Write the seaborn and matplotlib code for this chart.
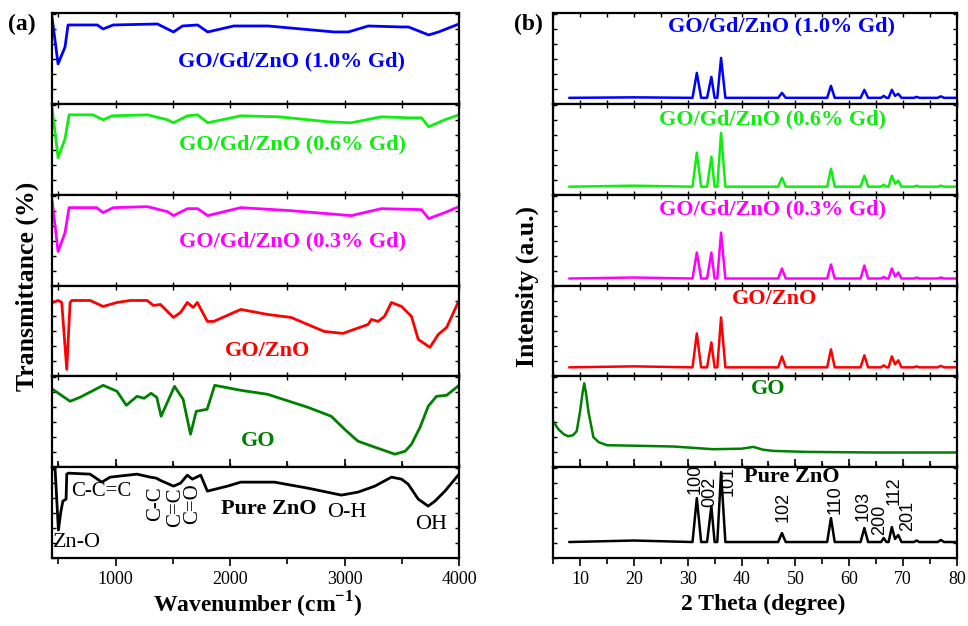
import numpy as np
import pandas as pd
import matplotlib
matplotlib.use("Agg")
import matplotlib.pyplot as plt
import seaborn as sns
from matplotlib.ticker import MultipleLocator

# ---------------- FTIR data (wavenumber, cm-1 ; relative transmittance) ----------------
ftir_10_x = [445, 498, 559, 585, 840, 892, 980, 1366, 1506, 1585, 1717, 1805, 2033, 2331,
             2621, 2910, 3033, 3208, 3498, 3559, 3735, 3822, 3910, 4000]
ftir_10_y = [87, 40, 57, 79, 79, 75, 79, 80, 72, 78, 79, 72, 78, 78,
             75, 72, 72, 78, 77, 77, 69, 72, 76, 80]

ftir_06_x = [445, 498, 559, 594, 800, 892, 971, 1279, 1454, 1506, 1629, 1717, 1805, 2095,
             2430, 2857, 3059, 3322, 3559, 3673, 3735, 3875, 4000]
ftir_06_y = [88, 37, 56, 80, 80, 75, 79, 80, 75, 72, 79, 80, 72, 79,
             78, 73, 72, 78, 77, 77, 68, 75, 80]

ftir_03_x = [445, 498, 559, 594, 835, 892, 980, 1279, 1454, 1506, 1629, 1717, 1805, 2095,
             2528, 3059, 3322, 3673, 3735, 3875, 4000]
ftir_03_y = [86, 34, 53, 78, 78, 73, 78, 79, 74, 70, 77, 77, 70, 78,
             75, 70, 77, 76, 67, 73, 79]

ftir_gozno_x = [451, 498, 530, 574, 603, 618, 778, 892, 1013, 1129, 1276, 1331, 1392, 1506,
                1568, 1627, 1679, 1714, 1802, 1857, 2094, 2328, 2533, 2822, 2986, 3206,
                3235, 3293, 3349, 3410, 3498, 3585, 3644, 3746, 3819, 3892, 4000]
ftir_gozno_y = [74, 76, 74, 7, 74, 76, 76, 70, 74, 76, 76, 71, 72, 59,
                64, 74, 69, 74, 55, 55, 67, 62, 59, 45, 43, 52,
                57, 55, 60, 74, 70, 60, 37, 29, 42, 49, 76]

ftir_go_x = [451, 603, 690, 892, 1013, 1094, 1188, 1250, 1310, 1360, 1398, 1515, 1590, 1655,
             1705, 1800, 1866, 2094, 2328, 2679, 2884, 3000, 3118, 3265, 3440, 3530, 3585,
             3660, 3731, 3804, 3892, 4000]
ftir_go_y = [78, 66, 70, 82, 76, 62, 71, 69, 74, 70, 51, 81, 68, 33,
             56, 58, 82, 77, 73, 60, 51, 38, 26, 20, 13, 16, 23,
             40, 61, 71, 72, 82]

ftir_zno_x = [445, 472, 501, 522, 540, 568, 574, 588, 778, 880, 953, 1187, 1304, 1357, 1387,
              1506, 1568, 1627, 1671, 1744, 1802, 1978, 2094, 2387, 2679, 2972, 3118, 3265,
              3410, 3498, 3556, 3644, 3731, 3790, 3877, 4000]
ftir_zno_y = [89, 89, 28, 46, 57, 59, 84, 85, 84, 76, 81, 84, 81, 80, 78,
              72, 75, 83, 79, 83, 67, 72, 76, 76, 70, 63, 66, 72,
              81, 79, 74, 59, 52, 57, 67, 84]

# ---------------- XRD data (2 theta ; relative intensity) ----------------
xrd_x = [8, 20, 30.9, 31.7, 32.5, 33.6, 34.4, 35.0, 35.5, 36.2, 37.0, 46.8, 47.5, 48.2,
         55.9, 56.6, 57.3, 62.1, 62.8, 63.5, 65.9, 66.4, 66.9, 67.3, 67.9, 68.5, 69.1,
         69.7, 72.0, 72.5, 73.0, 76.4, 77.0, 77.6, 80]
xrd_10_y = [6, 6.5, 6, 31, 6, 6, 27, 6, 6, 46, 6, 6, 11, 6,
            6, 18, 6, 6, 14, 6, 6, 8, 6, 6, 14, 8, 10,
            6, 6, 7, 6, 6, 7.5, 6, 6]
xrd_06_y = [8, 9, 8, 42, 8, 8, 38, 8, 8, 62, 8, 8, 17, 8,
            8, 26, 8, 8, 19, 8, 8, 10, 8, 8, 19, 11, 14,
            8, 8, 9, 8, 8, 9, 8, 8]
xrd_03_y = [7, 8, 7, 33, 7, 7, 33, 7, 7, 53, 7, 7, 17, 7,
            7, 21, 7, 7, 20, 7, 7, 8.5, 7, 7, 17, 9, 13,
            7, 7, 8, 7, 7, 8, 7, 7]
xrd_gozno_y = [9, 10, 9, 43, 9, 9, 34, 9, 9, 59, 9, 9, 20, 9,
               9, 27, 9, 9, 21, 9, 9, 11, 9, 9, 20, 12, 16,
               9, 9, 10, 9, 9, 10.5, 9, 9]
xrd_zno_y = [16, 17.5, 16, 60, 16, 16, 52, 16, 16, 86, 16, 16, 25, 16,
             16, 40, 16, 16, 30, 16, 16, 20, 16, 16, 31, 19, 23,
             16, 16, 17.5, 16, 16, 18, 16, 16]
xrd_go_x = [5.0, 6.0, 7.0, 7.8, 8.7, 9.4, 10.0, 10.5, 10.8, 11.1, 11.6, 12.5, 13.5, 15.0,
            20, 27.3, 34.7, 40, 42.2, 44, 45.9, 52.1, 64.5, 80]
xrd_go_y = [46, 38, 33, 31, 32, 36, 55, 75, 84, 75, 55, 30, 25, 22,
            21.5, 20.7, 18, 18.5, 20.3, 17.5, 16.3, 15.3, 14.7, 14.7]

series_names = ["GO/Gd/ZnO (1.0% Gd)", "GO/Gd/ZnO (0.6% Gd)", "GO/Gd/ZnO (0.3% Gd)",
                "GO/ZnO", "GO", "Pure ZnO"]
series_colors = ["#0000FF", "#10EE10", "#FF00FF", "#FF0000", "#008000", "#000000"]

hkl_labels = ["100", "002", "101", "102", "110", "103", "200", "112", "201"]
hkl_pos = [31.4, 34.1, 37.6, 47.7, 57.3, 62.5, 65.7, 68.4, 70.8]
hkl_y = [79, 66, 77, 51, 58.5, 52, 38, 67, 42]

ftir_sets = [(ftir_10_x, ftir_10_y), (ftir_06_x, ftir_06_y), (ftir_03_x, ftir_03_y),
             (ftir_gozno_x, ftir_gozno_y), (ftir_go_x, ftir_go_y), (ftir_zno_x, ftir_zno_y)]
xrd_sets = [(xrd_x, xrd_10_y), (xrd_x, xrd_06_y), (xrd_x, xrd_03_y),
            (xrd_x, xrd_gozno_y), (xrd_go_x, xrd_go_y), (xrd_x, xrd_zno_y)]

# ---------------- style ----------------
sns.set_theme(style="ticks", rc={"axes.edgecolor": "black", "xtick.color": "black",
                                 "ytick.color": "black", "text.color": "black",
                                 "axes.labelcolor": "black"})
plt.rcParams["font.family"] = ["Liberation Serif", "DejaVu Serif"]
plt.rcParams["mathtext.fontset"] = "custom"
plt.rcParams["mathtext.rm"] = "Liberation Serif"
plt.rcParams["mathtext.bf"] = "Liberation Serif:bold"

W, H = 968, 626
fig = plt.figure(figsize=(W / 100, H / 100), dpi=100)

top = 1 - 13 / H
bottom = 1 - 558 / H
n = 6
h = (top - bottom) / n
panels = {"L": (52 / W, 459 / W), "R": (553 / W, 957 / W)}


def make_axes(side):
    l, r = panels[side]
    axs = []
    for i in range(n):
        ax = fig.add_axes([l, top - (i + 1) * h, r - l, h])
        axs.append(ax)
    return axs


def style_ax(ax, last, xmajor, xminor, xlim):
    ax.set_xlim(*xlim)
    ax.set_ylim(0, 91)
    for s in ax.spines.values():
        s.set_linewidth(1.6)
        s.set_color("black")
        s.set_visible(True)
    ax.yaxis.set_major_locator(MultipleLocator(15))
    ax.tick_params(axis="y", which="both", left=True, right=True, direction="in",
                   length=3, width=1, labelleft=False, labelright=False)
    ax.xaxis.set_major_locator(MultipleLocator(xmajor))
    ax.xaxis.set_minor_locator(MultipleLocator(xminor))
    if last:
        ax.tick_params(axis="x", which="both", top=True, bottom=True, direction="out",
                       width=1.2, labelbottom=True, labelsize=13, pad=3)
        ax.tick_params(axis="x", which="major", length=6)
        ax.tick_params(axis="x", which="minor", length=4)
    else:
        ax.tick_params(axis="x", which="both", top=True, bottom=True, direction="in",
                       width=1, length=3, labelbottom=False)
    ax.set_xlabel("")
    ax.set_ylabel("")


axL = make_axes("L")
axR = make_axes("R")

for i in range(n):
    fx, fy = ftir_sets[i]
    sns.lineplot(x=fx, y=fy, ax=axL[i], color=series_colors[i], lw=2.0,
                 estimator=None, sort=False)
    style_ax(axL[i], i == n - 1, 1000, 500, (445, 4000))
    rx, ry = xrd_sets[i]
    sns.lineplot(x=rx, y=ry, ax=axR[i], color=series_colors[i], lw=1.8,
                 estimator=None, sort=False)
    style_ax(axR[i], i == n - 1, 10, 5, (5, 80))

# series labels, left panel
lab_fs = 16
left_lab = [(2541, 42), (2550, 50), (2550, 44), (2331, 25), (2243, 26)]
for i, (x, y) in enumerate(left_lab):
    axL[i].text(x, y, series_names[i], color=series_colors[i], fontsize=lab_fs,
                fontweight="bold", ha="center", va="center")
axL[5].text(2340, 49, series_names[5], color="black", fontsize=16,
            fontweight="bold", ha="center", va="center")

# series labels, right panel
right_lab = [(47.5, 77), (45.8, 75), (45.8, 76), (46.2, 77), (44.9, 78), (49.4, 81)]
for i, (x, y) in enumerate(right_lab):
    axR[i].text(x, y, series_names[i], color=series_colors[i], fontsize=lab_fs,
                fontweight="bold", ha="center", va="center")

# FTIR band annotations
a = axL[5]
a.text(455, 16, "Zn-O", fontsize=16, ha="left", va="center")
a.text(612, 67, "C-C=C", fontsize=15, ha="left", va="center")
a.text(1348, 54, "C-C", fontsize=15, ha="center", va="center", rotation=90)
a.text(1524, 51, "C=C", fontsize=15, ha="center", va="center", rotation=90)
a.text(1673, 54, "C=O", fontsize=15, ha="center", va="center", rotation=90)
a.text(3024, 46, "O-H", fontsize=16, ha="center", va="center")
a.text(3760, 34, "OH", fontsize=16, ha="center", va="center")

# hkl labels
for lab, x, y in zip(hkl_labels, hkl_pos, hkl_y):
    axR[5].text(x, y, lab, fontsize=13, ha="center", va="center", rotation=90,
                family=["Liberation Sans", "DejaVu Sans"])

# axis labels and panel tags
fig.text(27 / W, 1 - 286 / H, "Transmittance (%)", rotation=90, fontsize=18.5,
         fontweight="bold", ha="center", va="center")
fig.text(527 / W, 1 - 286 / H, "Intensity (a.u.)", rotation=90, fontsize=18.5,
         fontweight="bold", ha="center", va="center")
fig.text(258 / W, 1 - 605 / H, r"Wavenumber (cm$^{\mathbf{-1}}$)", fontsize=17,
         fontweight="bold", ha="center", va="center")
fig.text(763 / W, 1 - 604 / H, "2 Theta (degree)", fontsize=17,
         fontweight="bold", ha="center", va="center")
fig.text(22 / W, 1 - 24 / H, "(a)", fontsize=17, fontweight="bold", ha="center", va="center")
fig.text(528 / W, 1 - 24 / H, "(b)", fontsize=17, fontweight="bold", ha="center", va="center")

fig.savefig("out.png", dpi=100)
